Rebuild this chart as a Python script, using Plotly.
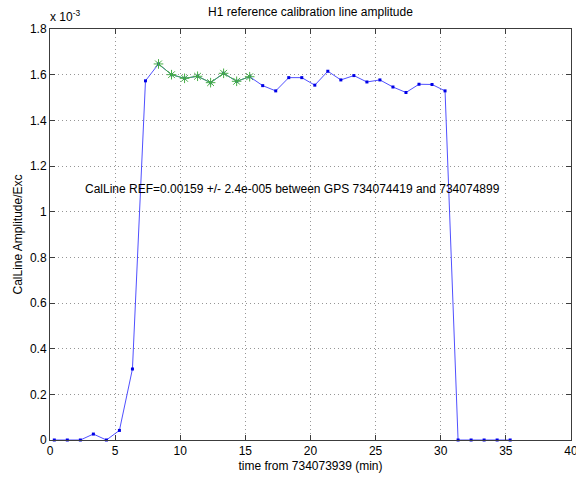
import plotly.graph_objects as go

# Calibration line amplitude samples, one per minute (time in minutes from GPS 734073939)
t_min = [0.33 + i for i in range(36)]
amp = [
    0.0, 0.0, 0.0, 0.026e-3, 0.0, 0.042e-3, 0.311e-3, 1.573e-3,
    1.647e-3, 1.600e-3, 1.584e-3, 1.593e-3, 1.565e-3, 1.606e-3, 1.571e-3, 1.591e-3,
    1.552e-3, 1.529e-3, 1.587e-3, 1.587e-3, 1.554e-3, 1.615e-3, 1.577e-3, 1.596e-3,
    1.568e-3, 1.577e-3, 1.546e-3, 1.522e-3, 1.558e-3, 1.557e-3, 1.529e-3,
    0.0, 0.0, 0.0, 0.0, 0.0,
]
# Samples used for the reference average (GPS 734074419 .. 734074899)
ref_idx = list(range(8, 16))
ref_t = [t_min[i] for i in ref_idx]
ref_amp = [amp[i] for i in ref_idx]

y_ticks = [0.0, 0.2e-3, 0.4e-3, 0.6e-3, 0.8e-3, 1.0e-3, 1.2e-3, 1.4e-3, 1.6e-3, 1.8e-3]
y_tick_text = ["0", "0.2", "0.4", "0.6", "0.8", "1", "1.2", "1.4", "1.6", "1.8"]
x_ticks = [0, 5, 10, 15, 20, 25, 30, 35, 40]
x_tick_text = [str(v) for v in x_ticks]

FONT = "Liberation Sans, Arial, sans-serif"
FS = 12

fig = go.Figure()
fig.add_trace(go.Scatter(
    x=t_min, y=amp, mode="lines+markers",
    line=dict(color="rgb(80,80,255)", width=1),
    marker=dict(color="rgb(0,0,230)", size=3, symbol="square"),
    showlegend=False, cliponaxis=False,
))
fig.add_trace(go.Scatter(
    x=ref_t, y=ref_amp, mode="lines+markers",
    line=dict(color="rgb(70,175,70)", width=1),
    marker=dict(symbol="asterisk-open", size=8,
                line=dict(color="rgb(0,140,0)", width=1)),
    showlegend=False,
))

fig.add_annotation(
    x=2.5, y=1.1e-3, xref="x", yref="y", xanchor="left", yanchor="middle",
    text="CalLine REF=0.00159 +/- 2.4e-005 between GPS 734074419 and 734074899",
    showarrow=False, font=dict(family=FONT, size=FS, color="black"),
)
fig.add_annotation(
    x=0, y=1.0, xref="paper", yref="paper", xanchor="left", yanchor="bottom",
    xshift=-2, yshift=3, text="x 10<sup>-3</sup>", showarrow=False,
    font=dict(family=FONT, size=FS, color="black"),
)

axis_common = dict(
    showline=True, linecolor="rgb(60,60,60)", linewidth=1, mirror="ticks",
    ticks="inside", ticklen=5, tickcolor="rgb(60,60,60)",
    showgrid=True, gridcolor="rgb(150,150,150)", griddash="1px,3px", gridwidth=1,
    zeroline=False, automargin=False,
    tickfont=dict(family=FONT, size=FS, color="black"),
)

fig.update_layout(
    width=576, height=477,
    margin=dict(l=50, r=5, t=29, b=37),
    paper_bgcolor="white", plot_bgcolor="white",
    title=dict(text="H1 reference calibration line amplitude",
               x=0.5, xanchor="center", y=0.975, yanchor="middle",
               xref="paper",
               font=dict(family=FONT, size=FS, color="black")),
    xaxis=dict(range=[0, 40.0001], tickvals=x_ticks, ticktext=x_tick_text,
               ticklabeloverflow="allow",
               title=dict(text="time from 734073939 (min)", standoff=4,
                          font=dict(family=FONT, size=FS, color="black")),
               **axis_common),
    yaxis=dict(range=[0, 1.8e-3], tickvals=y_ticks, ticktext=y_tick_text,
               title=dict(text="CalLine Amplitude/Exc", standoff=4,
                          font=dict(family=FONT, size=FS, color="black")),
               **axis_common),
)

fig.write_html("out.html")
